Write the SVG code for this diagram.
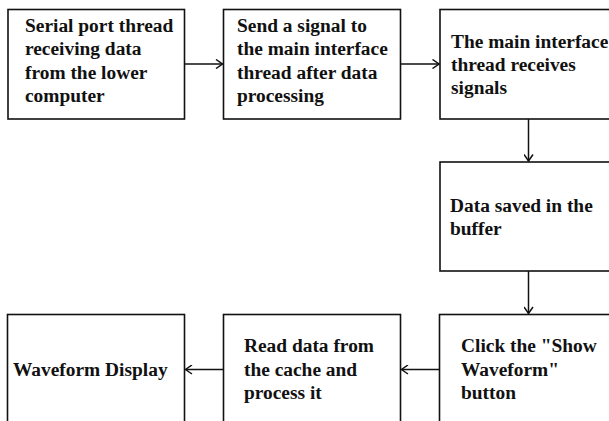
<svg xmlns="http://www.w3.org/2000/svg" width="609" height="421" viewBox="0 0 609 421">
<defs>
<style>
.box{fill:#fff;stroke:#111;stroke-width:1.6}
.t{font-family:"Liberation Serif","Times New Roman",serif;font-weight:bold;font-size:19.4px;fill:#111}
.c{fill:none;stroke:#111;stroke-width:1.5}
</style>
<marker id="ah" viewBox="0 0 10 10" refX="9" refY="5" markerWidth="10" markerHeight="10" markerUnits="userSpaceOnUse" orient="auto">
<path d="M2.5,0.5 L9,5 L2.5,9.5" fill="none" stroke="#111" stroke-width="1.5"/>
</marker>
</defs>
<rect width="609" height="421" fill="#fff"/>
<g id="n1"><rect class="box" x="8" y="9.5" width="176.5" height="109.5"/>
<text class="t"><tspan x="25" y="32">Serial port thread</tspan><tspan x="25" y="55.3">receiving data</tspan><tspan x="25" y="78.6">from the lower</tspan><tspan x="25" y="102">computer</tspan></text></g>
<g id="n2"><rect class="box" x="223.5" y="9.5" width="177" height="109.5"/>
<text class="t"><tspan x="237" y="32">Send a signal to</tspan><tspan x="237" y="55.3">the main interface</tspan><tspan x="237" y="78.6">thread after data</tspan><tspan x="237" y="102">processing</tspan></text></g>
<g id="n3"><rect class="box" x="440" y="9.5" width="180" height="109.5"/>
<text class="t"><tspan x="451" y="47.5">The main interface</tspan><tspan x="451" y="70.8">thread receives</tspan><tspan x="451" y="94.1">signals</tspan></text></g>
<g id="n4"><rect class="box" x="440" y="162" width="180" height="109"/>
<text class="t"><tspan x="450" y="211.5">Data saved in the</tspan><tspan x="450" y="234.8">buffer</tspan></text></g>
<g id="n5"><rect class="box" x="439.5" y="314.5" width="180" height="120"/>
<text class="t"><tspan x="461" y="352.3">Click the "Show</tspan><tspan x="461" y="375.6">Waveform"</tspan><tspan x="461" y="398.9">button</tspan></text></g>
<g id="n6"><rect class="box" x="223.5" y="314.5" width="177" height="120"/>
<text class="t"><tspan x="244" y="352.3">Read data from</tspan><tspan x="244" y="375.6">the cache and</tspan><tspan x="244" y="398.9">process it</tspan></text></g>
<g id="n7"><rect class="box" x="7.5" y="314.5" width="177" height="120"/>
<text class="t" x="13" y="376">Waveform Display</text></g>
<g id="connectors">
<line class="c" x1="184.5" y1="64" x2="222.5" y2="64" marker-end="url(#ah)"/>
<line class="c" x1="400.5" y1="64" x2="439" y2="64" marker-end="url(#ah)"/>
<line class="c" x1="528.5" y1="119" x2="528.5" y2="161" marker-end="url(#ah)"/>
<line class="c" x1="528.5" y1="271" x2="528.5" y2="313.5" marker-end="url(#ah)"/>
<line class="c" x1="439.5" y1="369.5" x2="401.5" y2="369.5" marker-end="url(#ah)"/>
<line class="c" x1="223.5" y1="369.5" x2="185.5" y2="369.5" marker-end="url(#ah)"/>
</g>
</svg>
